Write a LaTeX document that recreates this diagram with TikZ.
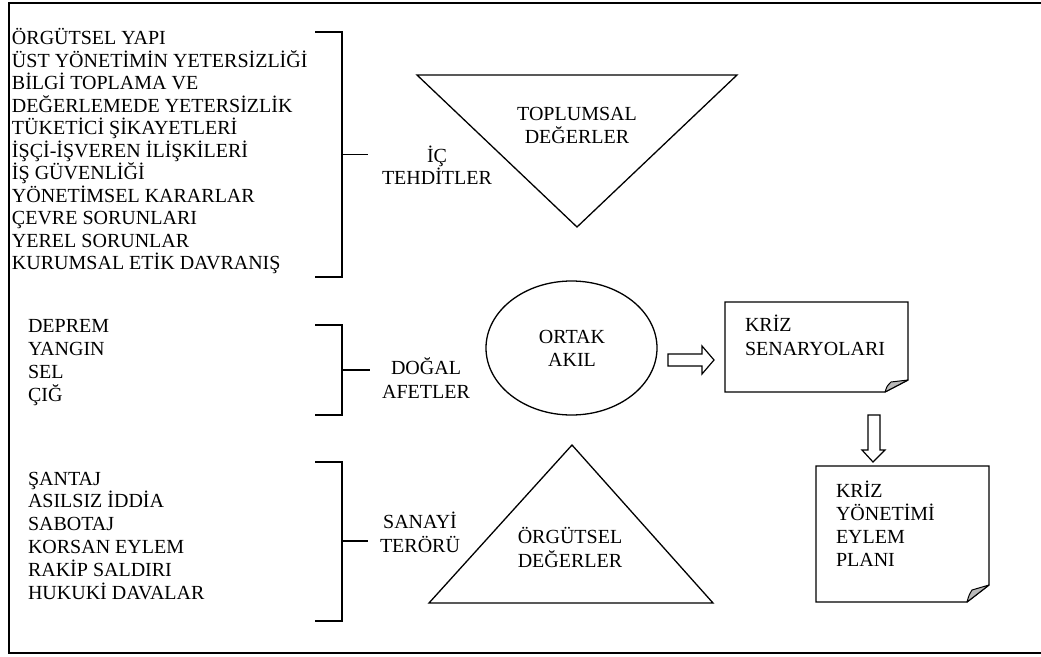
\documentclass[tikz,border=0pt]{standalone}
\usepackage{fontspec}
\setmainfont{Liberation Serif}
\usetikzlibrary{shapes.geometric}
% stacked lines at a fixed line pitch; the node's base is the first baseline
\newcommand{\leftlines}[2]{\vtop{\baselineskip=#1\lineskiplimit=-100pt\lineskip=0pt
  \halign{##\hfil\cr#2\crcr}}}
\newcommand{\midlines}[2]{\vtop{\baselineskip=#1\lineskiplimit=-100pt\lineskip=0pt
  \halign{\hfil##\hfil\cr#2\crcr}}}
\begin{document}
\begin{tikzpicture}[x=1pt,y=-1pt,
  txt/.style={inner sep=0pt,outer sep=0pt,font=\fontsize{20}{22}\selectfont},
  listtext/.style={txt,anchor=base west},
  labeltext/.style={txt,anchor=base},
  outline/.style={line width=2pt},
  bracket/.style={line width=1.4pt},
  figure/.style={line width=1.3pt},
  hollow/.style={line width=1.2pt,fill=white},
  curl/.style={line width=1pt,fill=gray!55,line join=round}]
\useasboundingbox (0,0) rectangle (1041,656);

% outer frame (open on the right side)
\draw[outline] (1042,3) -- (9,3) -- (9,653) -- (1042,653);

% ---- internal threats ----
\node[listtext] (inner) at (12,44.5) {\leftlines{22.5pt}{%
ÖRGÜTSEL YAPI\cr
ÜST YÖNETİMİN YETERSİZLİĞİ\cr
BİLGİ TOPLAMA VE\cr
DEĞERLEMEDE YETERSİZLİK\cr
TÜKETİCİ ŞİKAYETLERİ\cr
İŞÇİ-İŞVEREN İLİŞKİLERİ\cr
İŞ GÜVENLİĞİ\cr
YÖNETİMSEL KARARLAR\cr
ÇEVRE SORUNLARI\cr
YEREL SORUNLAR\cr
KURUMSAL ETİK DAVRANIŞ}};
\coordinate (b1t) at (342,32);
\coordinate (b1b) at (342,277);
\coordinate (b1m) at (342,154.5);
\coordinate (b1e) at (368,154.5);
\draw[bracket] (315,32) -- (b1t) -- (b1b) -- (315,277);
\draw[bracket] (b1m) -- (b1e);
\node[labeltext] (ic) at (437,162) {\midlines{22.5pt}{İÇ\cr TEHDİTLER}};

% ---- natural disasters ----
\node[listtext] (nat) at (28,332) {\leftlines{23.3pt}{%
DEPREM\cr
YANGIN\cr
SEL\cr
ÇIĞ}};
\coordinate (b2t) at (342,325);
\coordinate (b2b) at (342,415);
\coordinate (b2m) at (342,370);
\coordinate (b2e) at (370,370);
\draw[bracket] (315,325) -- (b2t) -- (b2b) -- (315,415);
\draw[bracket] (b2m) -- (b2e);
\node[labeltext] (dogal) at (426,374.5) {\midlines{24pt}{DOĞAL\cr AFETLER}};

% ---- industrial terror ----
\node[listtext] (ind) at (28,485) {\leftlines{22.8pt}{%
ŞANTAJ\cr
ASILSIZ İDDİA\cr
SABOTAJ\cr
KORSAN EYLEM\cr
RAKİP SALDIRI\cr
HUKUKİ DAVALAR}};
\coordinate (b3t) at (342,462);
\coordinate (b3b) at (342,621);
\coordinate (b3m) at (342,541);
\coordinate (b3e) at (368,541);
\draw[bracket] (315,462) -- (b3t) -- (b3b) -- (315,621);
\draw[bracket] (b3m) -- (b3e);
\node[labeltext] (sanayi) at (420,528) {\midlines{24pt}{SANAYİ\cr TERÖRÜ}};

% ---- social values (inverted triangle) ----
\draw[figure] (417,75) -- (737,75) -- (577,227) -- cycle;
\node[labeltext] (toplum) at (577,120) {\midlines{23pt}{TOPLUMSAL\cr DEĞERLER}};

% ---- common sense (ellipse) ----
\node[ellipse,draw,figure,minimum width=171pt,minimum height=134pt,inner sep=0pt] (akil) at (571.5,348) {};
\node[labeltext] (akiltext) at (572,343) {\midlines{23.5pt}{ORTAK\cr AKIL}};

% ---- organisational values (triangle) ----
\draw[figure] (429,603) -- (713,603) -- (572,445) -- cycle;
\node[labeltext] (orgut) at (570,543) {\midlines{24pt}{ÖRGÜTSEL\cr DEĞERLER}};

% ---- crisis scenarios (page with curled corner) ----
\draw[figure] (725,302) -- (908,302) -- (908,380) -- (885,392) -- (725,392) -- cycle;
\draw[curl] (885,392) .. controls (887,386) .. (891,382) -- (908,380) -- cycle;
\node[listtext] (senaryo) at (745,331.5) {\leftlines{23.5pt}{KRİZ\cr SENARYOLARI}};

% ---- action plan (page with curled corner) ----
\draw[figure] (816,466) -- (989,466) -- (989,585) -- (967,602) -- (816,602) -- cycle;
\draw[curl] (967,602) .. controls (969,595) .. (972,590) -- (989,585) -- cycle;
\node[listtext] (plan) at (836,497) {\leftlines{23.3pt}{KRİZ\cr YÖNETİMİ\cr EYLEM\cr PLANI}};

% ---- hollow block arrows ----
\draw[hollow] (668,354) -- (702,354) -- (702,346) -- (714,360) -- (702,374)
  -- (702,366) -- (668,366) -- cycle;
\draw[hollow] (868,415) -- (880,415) -- (880,450) -- (885,450) -- (873,462)
  -- (862,450) -- (868,450) -- cycle;
\end{tikzpicture}
\end{document}
